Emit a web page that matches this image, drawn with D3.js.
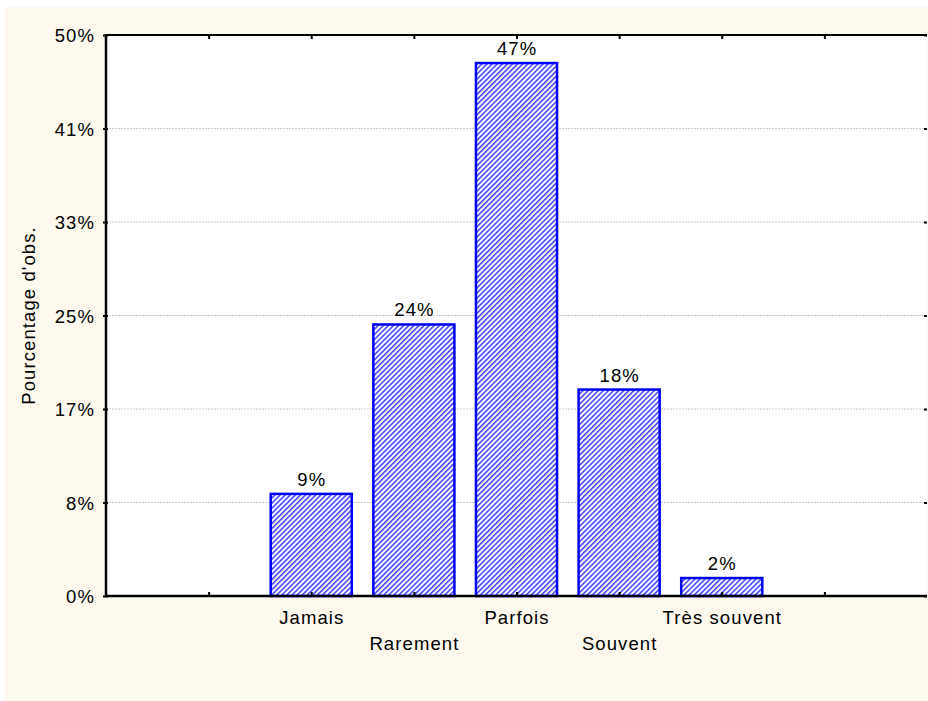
<!DOCTYPE html>
<html><head><meta charset="utf-8">
<script src="https://cdn.jsdelivr.net/npm/d3@7"></script>
<style>body{margin:0;background:#fff;}svg{display:block;font-family:"Liberation Sans",Arial,sans-serif;}</style>
</head><body>
<script>
const categories = ["Jamais","Rarement","Parfois","Souvent","Très souvent"];
const values = [9.1, 24.2, 47.5, 18.4, 1.6];
const valueLabels = ["9%","24%","47%","18%","2%"];
const yTickValues = [0, 50/6, 100/6, 25, 200/6, 250/6, 50];
const yTickLabels = ["0%","8%","17%","25%","33%","41%","50%"];
const xSlots = [0,1,2,3,4,5,6,7,8];
const catPos = [2,3,4,5,6];

const W = 928, H = 701;
const FS = 18.5, LS = 1.1;
const svg = d3.select("body").append("svg").attr("width", W).attr("height", H);
svg.append("rect").attr("x",5).attr("y",7).attr("width",W-5).attr("height",H-7).attr("fill","#fdf9ef");

const m = {left:106, top:35, right:927, bottom:596};
const x = d3.scaleLinear().domain([0,8]).range([m.left, m.right]);
const y = d3.scaleLinear().domain([0,50]).range([m.bottom, m.top]);

svg.append("rect").attr("x",m.left).attr("y",m.top).attr("width",m.right-m.left).attr("height",m.bottom-m.top).attr("fill","#fff");

const defs = svg.append("defs");
const P = 3.6;
const pat = defs.append("pattern").attr("id","hatch").attr("patternUnits","userSpaceOnUse")
  .attr("width",P).attr("height",P).attr("patternTransform","rotate(45)");
pat.append("rect").attr("width",P).attr("height",P).attr("fill","#fff");
pat.append("rect").attr("x",0).attr("y",0).attr("width",1.6).attr("height",P).attr("fill","#4646ff");

// gridlines
svg.append("g").selectAll("line").data(yTickValues.slice(1,-1)).join("line")
  .attr("x1",m.left).attr("x2",m.right).attr("y1",d=>y(d)).attr("y2",d=>y(d))
  .attr("stroke","#c8c8c8").attr("stroke-dasharray","2,1").attr("stroke-width",1);

// bars
const bw = (x(1)-x(0))*0.79;
svg.append("g").selectAll("rect").data(values).join("rect")
  .attr("x",(d,i)=>x(catPos[i])-bw/2).attr("y",d=>y(d))
  .attr("width",bw).attr("height",d=>y(0)-y(d))
  .attr("fill","url(#hatch)").attr("stroke","#0000ff").attr("stroke-width",2.5);

function txt(sel){ return sel.attr("font-size",FS).attr("letter-spacing",LS).attr("fill","#000"); }

// value labels
txt(svg.append("g").selectAll("text").data(values).join("text")
  .attr("x",(d,i)=>x(catPos[i])+LS/2).attr("y",d=>y(d)-8)
  .attr("text-anchor","middle"))
  .text((d,i)=>valueLabels[i]);

// axes
const yAxis = d3.axisLeft(y).tickValues(yTickValues).tickFormat((d,i)=>yTickLabels[i]).tickSize(4).tickPadding(7);
const gy = svg.append("g").attr("transform",`translate(${m.left},0)`).call(yAxis);
gy.select(".domain").remove();
gy.selectAll(".tick line").attr("stroke","#000").attr("stroke-width",2).attr("x1",2).attr("x2",-3);
txt(gy.selectAll("text")).attr("font-family","Liberation Sans, Arial, sans-serif").attr("dy","0.36em");

const yRight = d3.axisRight(y).tickValues(yTickValues).tickFormat("").tickSize(0);
const gyr = svg.append("g").attr("transform",`translate(${m.right},0)`).call(yRight);
gyr.select(".domain").remove();
gyr.selectAll(".tick line").attr("stroke","#000").attr("stroke-width",2).attr("x1",-3).attr("x2",0);

const xBottom = d3.axisBottom(x).tickValues(xSlots.slice(1,-1)).tickFormat("").tickSize(0);
const gxb = svg.append("g").attr("transform",`translate(0,${m.bottom})`).call(xBottom);
gxb.select(".domain").remove();
gxb.selectAll(".tick line").attr("stroke","#000").attr("stroke-width",2).attr("y1",0).attr("y2",-4);

const xTop = d3.axisTop(x).tickValues(xSlots.slice(1,-1)).tickFormat("").tickSize(0);
const gxt = svg.append("g").attr("transform",`translate(0,${m.top})`).call(xTop);
gxt.select(".domain").remove();
gxt.selectAll(".tick line").attr("stroke","#000").attr("stroke-width",2).attr("y1",0).attr("y2",4);

// frame
svg.append("line").attr("x1",m.left).attr("x2",m.right).attr("y1",m.top).attr("y2",m.top).attr("stroke","#000").attr("stroke-width",2);
svg.append("line").attr("x1",m.left).attr("x2",m.right).attr("y1",m.bottom).attr("y2",m.bottom).attr("stroke","#000").attr("stroke-width",2.5);
svg.append("line").attr("x1",m.left).attr("x2",m.left).attr("y1",m.top-1).attr("y2",m.bottom+1).attr("stroke","#000").attr("stroke-width",2.5);

// category labels (staggered)
txt(svg.append("g").selectAll("text").data(categories).join("text")
  .attr("x",(d,i)=>x(catPos[i])+LS/2).attr("y",(d,i)=> i%2===0 ? 624 : 650)
  .attr("text-anchor","middle"))
  .text(d=>d);

// y axis title
txt(svg.append("text").attr("transform",`translate(35,${(m.top+m.bottom)/2}) rotate(-90)`)
  .attr("text-anchor","middle")).text("Pourcentage d'obs.");
</script>
</body></html>
